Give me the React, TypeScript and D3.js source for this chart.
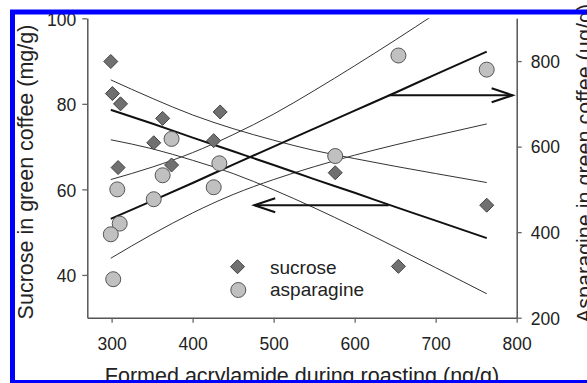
import React, { useEffect, useRef } from 'react';
import * as d3 from 'd3';

const W = 587;
const H = 383;

// Data points
const sucroseX = [299, 301, 311, 363, 352, 434, 426, 308, 374, 576, 763, 654];
const sucroseY = [89.9, 82.4, 80.0, 76.6, 70.9, 78.1, 71.4, 65.1, 65.7, 63.9, 56.3, 42.0];
const asparagineX = [374, 363, 433, 426, 307, 352, 310, 299, 302, 654, 763, 576];
const asparagineY = [618, 533, 561, 505, 500, 477, 420, 395, 290, 813, 780, 578];

// Regression lines and confidence bands
const fitX = [299, 350, 400, 450, 500, 550, 600, 650, 700, 763];
const sucroseFit = [78.6, 75.4, 72.1, 68.9, 65.7, 62.4, 59.2, 55.9, 52.7, 48.6];
const sucroseUpper = [85.6, 81.3, 77.4, 74.2, 71.5, 69.1, 67.2, 65.4, 63.7, 61.6];
const sucroseLower = [71.6, 69.5, 66.8, 63.7, 59.9, 55.7, 51.2, 46.5, 41.7, 35.6];
const asparagineFit = [431, 473, 515, 558, 600, 642, 684, 726, 769, 822];
const asparagineUpper = [523, 552, 586, 628, 676, 731, 789, 849, 911, 990];
const asparagineLower = [339, 395, 445, 488, 523, 553, 580, 604, 626, 653];

// Arrows
const arrowStartX = 642;
const arrowRightEndX = 795;
const arrowLeftEndX = 476;
const arrowAsparagineLevel = 720;
const arrowSucroseLevel = 56.3;

// Ticks
const xTicks = [300, 400, 500, 600, 700, 800];
const sucroseTicks = [40, 60, 80, 100];
const asparagineTicks = [200, 400, 600, 800];

const legendLabels = ['sucrose', 'asparagine'];

const FONT = '"Liberation Sans", Arial, Helvetica, sans-serif';

const left = 87.3, right = 516.7, top = 18.3, bottom = 317.7;

const x = d3.scaleLinear().domain([270, 800]).range([left, right]);
const yL = d3.scaleLinear().domain([30, 100]).range([bottom, top]);
const yR = d3.scaleLinear().domain([200, 900]).range([bottom, top]);

function styleAxis(g: any) {
  g.attr('font-family', FONT).attr('font-size', 17.5);
  g.select('.domain').attr('stroke', '#555').attr('stroke-width', 1.5);
  g.selectAll('.tick line').attr('stroke', '#666').attr('stroke-width', 1.3);
  g.selectAll('.tick text').attr('fill', '#222');
}

export default function App() {
  const gx = useRef<SVGGElement>(null);
  const gl = useRef<SVGGElement>(null);
  const gr = useRef<SVGGElement>(null);

  useEffect(() => {
    const ax = d3.select(gx.current as SVGGElement);
    ax.call(d3.axisBottom(x).tickValues(xTicks).tickSize(5).tickPadding(15).tickSizeOuter(0) as any);
    styleAxis(ax);
    const al = d3.select(gl.current as SVGGElement);
    al.call(d3.axisLeft(yL).tickValues(sucroseTicks).tickSize(5).tickPadding(6).tickSizeOuter(0) as any);
    styleAxis(al);
    al.selectAll('.tick text').attr('dy', '0.4em');
    const ar = d3.select(gr.current as SVGGElement);
    ar.call(d3.axisRight(yR).tickValues(asparagineTicks).tickSize(5).tickPadding(9).tickSizeOuter(0) as any);
    styleAxis(ar);
    ar.selectAll('.tick text').attr('dy', '0.36em');
  }, []);

  const lineL = d3.line<number>().x((_, i) => x(fitX[i])).y((d) => yL(d)).curve(d3.curveMonotoneX);
  const lineR = d3.line<number>().x((_, i) => x(fitX[i])).y((d) => yR(d)).curve(d3.curveMonotoneX);

  const diamond = (cx: number, cy: number, r: number) =>
    `M${cx},${cy - r}L${cx + r},${cy}L${cx},${cy + r}L${cx - r},${cy}Z`;

  const ay = yR(arrowAsparagineLevel);
  const sy = yL(arrowSucroseLevel);
  const ax0 = x(arrowStartX);
  const axR = x(arrowRightEndX);
  const axL = x(arrowLeftEndX);

  return (
    <svg width={W} height={H} style={{ position: 'absolute', left: 0, top: 0, background: '#fff' }}>
      <defs>
        <clipPath id="plotclip">
          <rect x={left} y={top} width={right - left} height={bottom - top} />
        </clipPath>
      </defs>
      <rect x={0} y={0} width={W} height={H} fill="#fff" />

      {/* Confidence bands */}
      <g clipPath="url(#plotclip)" fill="none" stroke="#333" strokeWidth={1}>
        <path d={lineL(sucroseUpper) || ''} />
        <path d={lineL(sucroseLower) || ''} />
        <path d={lineR(asparagineUpper) || ''} />
        <path d={lineR(asparagineLower) || ''} />
      </g>
      {/* Fit lines */}
      <g fill="none" stroke="#111" strokeWidth={2}>
        <path d={lineL(sucroseFit) || ''} />
        <path d={lineR(asparagineFit) || ''} />
      </g>

      {/* Arrows */}
      <g fill="none" stroke="#111" strokeWidth={2}>
        <line x1={ax0} y1={ay} x2={axR} y2={ay} />
        <path d={`M${axR - 21},${ay - 7}L${axR},${ay}L${axR - 21},${ay + 7}`} />
        <line x1={ax0} y1={sy} x2={axL} y2={sy} />
        <path d={`M${axL + 21},${sy - 7}L${axL},${sy}L${axL + 21},${sy + 7}`} />
      </g>

      {/* Points */}
      <g>
        {sucroseX.map((v, i) => (
          <path key={'s' + i} d={diamond(x(v), yL(sucroseY[i]), 7)} fill="#707070" stroke="#444" strokeWidth={1} />
        ))}
        {asparagineX.map((v, i) => (
          <circle key={'a' + i} cx={x(v)} cy={yR(asparagineY[i])} r={7.5} fill="#c0c0c0" stroke="#555" strokeWidth={1} />
        ))}
      </g>

      {/* Legend */}
      <g fontFamily={FONT} fontSize={19} fill="#222">
        <path d={diamond(237.5, 266.7, 7)} fill="#707070" stroke="#444" strokeWidth={1} />
        <text x={270} y={274}>{legendLabels[0]}</text>
        <circle cx={238.3} cy={290} r={7.5} fill="#c0c0c0" stroke="#555" strokeWidth={1} />
        <text x={270} y={296}>{legendLabels[1]}</text>
      </g>

      {/* Axes */}
      <g ref={gx} transform={`translate(0,${bottom})`} />
      <g ref={gl} transform={`translate(${left},0)`} />
      <g ref={gr} transform={`translate(${right},0)`} />

      {/* Axis titles */}
      <text x={302} y={383} textAnchor="middle" fontFamily={FONT} fontSize={21.5} fill="#222">
        Formed acrylamide during roasting (ng/g)
      </text>
      <text transform={`translate(32.5,172) rotate(-90)`} textAnchor="middle" fontFamily={FONT} fontSize={21.5} fill="#222">
        Sucrose in green coffee (mg/g)
      </text>
      <text transform={`translate(592,323) rotate(-90)`} textAnchor="start" fontFamily={FONT} fontSize={21.5} fill="#222">
        Asparagine in green coffee (µg/g)
      </text>

      {/* Blue frame */}
      <rect x={12.5} y={12} width={640} height={370.5} fill="none" stroke="#0000ff" strokeWidth={5} />
    </svg>
  );
}
